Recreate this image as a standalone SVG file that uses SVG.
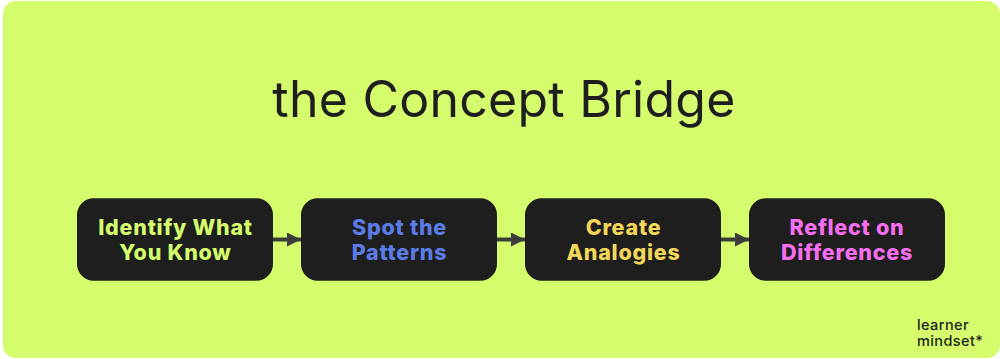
<svg xmlns="http://www.w3.org/2000/svg" width="1000" height="359" viewBox="0 0 1000 359">
<style>
.box{fill:#1e1e1e}
.t{font-family:"Inter","Liberation Sans",sans-serif;font-weight:800;font-size:21.500px;letter-spacing:.75px;text-anchor:middle}
.title{font-family:"Inter","Liberation Sans",sans-serif;font-weight:400;font-size:50px;letter-spacing:.25px;fill:#1e1e1e;text-anchor:middle}
.logo{font-family:"Inter","Liberation Sans",sans-serif;font-weight:500;font-size:14.500px;letter-spacing:.4px;fill:#1e1e1e}
.c{stroke:#3c3c3c;stroke-width:4;fill:none;marker-end:url(#a)}
</style>
<defs><marker id="a" markerUnits="userSpaceOnUse" markerWidth="14" markerHeight="14" refX="14" refY="7" orient="auto"><path d="M0 0L14 7L0 14Z" fill="#3c3c3c"/></marker></defs>
<rect width="1000" height="359" fill="#fff"/>
<rect x="3" y="1" width="997" height="357" rx="13" fill="#d4fc6c"/>
<text class="title" x="504" y="117">the Concept Bridge</text>
<g id="connectors">
<path class="c" d="M273 239.500H301"/>
<path class="c" d="M497 239.500H525"/>
<path class="c" d="M721 239.500H749"/>
</g>
<g id="n1"><rect class="box" x="77" y="198.300" width="196" height="82.400" rx="16.500"/><text class="t" fill="#d4fc6c" x="175.500" y="235">Identify What</text><text class="t" fill="#d4fc6c" x="175.500" y="260">You Know</text></g>
<g id="n2"><rect class="box" x="301" y="198.300" width="196" height="82.400" rx="16.500"/><text class="t" fill="#5b7ce6" x="399.500" y="235">Spot the</text><text class="t" fill="#5b7ce6" x="399.500" y="260">Patterns</text></g>
<g id="n3"><rect class="box" x="525" y="198.300" width="196" height="82.400" rx="16.500"/><text class="t" fill="#f2d75a" x="623.500" y="235">Create</text><text class="t" fill="#f2d75a" x="623.500" y="260">Analogies</text></g>
<g id="n4"><rect class="box" x="749" y="198.300" width="196" height="82.400" rx="16.500"/><text class="t" fill="#f76ef0" x="847" y="235">Reflect on</text><text class="t" fill="#f76ef0" x="847" y="260">Differences</text></g>
<g id="logo"><text class="logo" x="917" y="330">learner</text><text class="logo" x="917" y="346">mindset*</text></g>
</svg>
